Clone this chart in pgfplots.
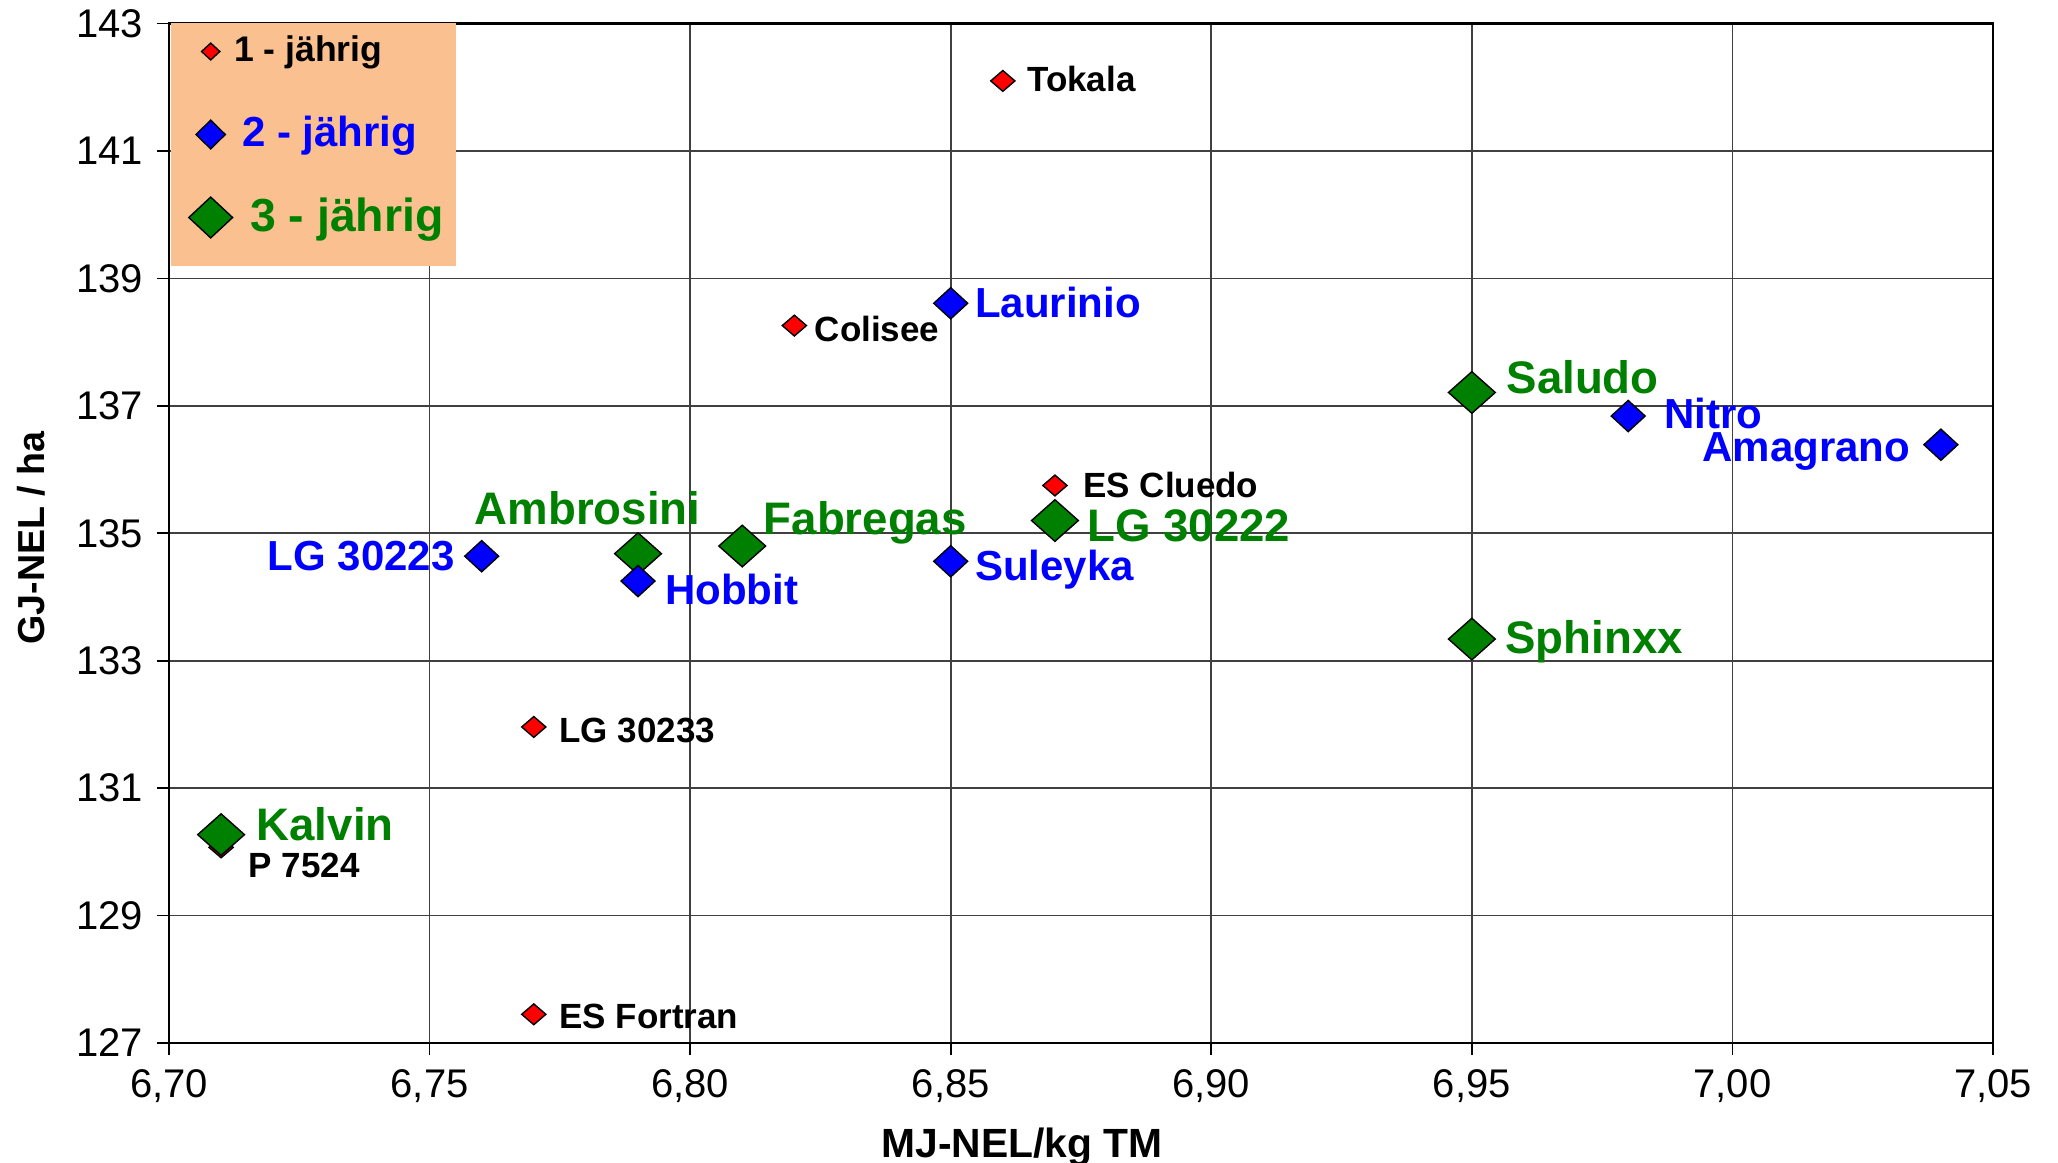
\documentclass[border=0pt]{standalone}
\usepackage{fontspec}
\setmainfont{Liberation Sans}
\usepackage{pgfplots}
\usepackage{pgfplotstable}
\pgfplotsset{compat=1.18}
\definecolor{legfill}{RGB}{250,192,143}
\definecolor{mygreen}{RGB}{0,128,0}

\pgfplotstableread{
x y
6.86 142.10
6.82 138.26
6.87 135.75
6.77 131.96
6.71 130.07
6.77 127.45
}\redt

\pgfplotstableread{
x y
6.85 138.61
6.98 136.84
7.04 136.39
6.76 134.64
6.79 134.25
6.85 134.56
}\bluet

\pgfplotstableread{
x y
6.95 137.21
6.79 134.68
6.81 134.80
6.87 135.20
6.95 133.34
6.71 130.27
}\greent

\tikzset{
  lb/.style={inner sep=0pt, text height=0.72em, text depth=0pt, font=\bfseries\fontsize{8.75}{10}\selectfont, text=black},
  lblue/.style={inner sep=0pt, text height=0.72em, text depth=0pt, font=\bfseries\fontsize{10.5}{12}\selectfont, text=blue},
  lgreen/.style={inner sep=0pt, text height=0.72em, text depth=0pt, font=\bfseries\fontsize{11.4}{13}\selectfont, text=mygreen},
}

\begin{document}
\begin{tikzpicture}
\begin{axis}[
  at={(0pt,0pt)}, anchor=south west,
  scale only axis, width=456pt, height=254.85pt,
  xmin=6.70, xmax=7.05, ymin=127, ymax=143,
  xtick={6.70,6.75,6.80,6.85,6.90,6.95,7.00,7.05},
  ytick={127,129,131,133,135,137,139,141,143},
  grid=major, major grid style={line width=0.4pt, black!75},
  axis line style={line width=0.7pt, black},
  tick align=outside, tick pos=left, major tick length=3pt,
  tick style={black, line width=0.4pt},
  /pgf/number format/assume math mode=true,
  ticklabel style={font=\fontsize{10}{12}\selectfont},
  xticklabel style={/pgf/number format/.cd, fixed, fixed zerofill, precision=2, use comma},
  yticklabel style={/pgf/number format/.cd, fixed, precision=0},
  xlabel={MJ-NEL/kg TM}, ylabel={GJ-NEL / ha},
  xlabel style={at={(axis description cs:0.4677,-0.1020)}, anchor=center,
    font=\bfseries\fontsize{10.2}{12}\selectfont},
  ylabel style={at={(axis description cs:-0.0754,0.4954)}, anchor=center,
    font=\bfseries\fontsize{9.4}{11}\selectfont},
  legend style={draw=none, fill=none, at={(axis description cs:0.0005,1.0141)},
    anchor=north west, inner sep=0pt, row sep=0pt,
    nodes={inner sep=0pt, minimum height=20.75pt}},
  legend cell align=left,
  legend image code/.code={\path[draw=none, fill=none] (0pt,-1pt) rectangle (17.85pt,1pt);
    \draw[#1] plot coordinates {(10pt,0pt)};},
]
\fill[legfill] (axis description cs:0.0012,1.0019) rectangle (axis description cs:0.1572,0.7625);

\addplot[only marks, forget plot, mark=diamond*, mark size=2.6pt,
  mark options={fill=red, draw=black, line width=0.35pt, xscale=1.55}]
  table[x=x, y=y] {\redt};

\addplot[only marks, forget plot, mark=diamond*, mark size=5.2pt,
  mark options={fill=mygreen, draw=black, line width=0.35pt, xscale=1.5}]
  table[x=x, y=y] {\greent};

\addplot[only marks, forget plot, mark=diamond*, mark size=3.9pt,
  mark options={fill=blue, draw=black, line width=0.35pt, xscale=1.45}]
  table[x=x, y=y] {\bluet};

% labels, 1-jaehrig
\node[lb, anchor=west] at ([xshift=5.9pt,yshift=1pt]axis cs:6.86,142.10) {Tokala};
\node[lb, anchor=west] at ([xshift=4.9pt,yshift=-0.5pt]axis cs:6.82,138.26) {Colisee};
\node[lb, anchor=west] at ([xshift=6.9pt,yshift=0.7pt]axis cs:6.87,135.75) {ES Cluedo};
\node[lb, anchor=west] at ([xshift=6.2pt,yshift=-0.4pt]axis cs:6.77,131.96) {LG 30233};
\node[lb, anchor=west] at ([xshift=6.75pt,yshift=-3.9pt]axis cs:6.71,130.07) {P 7524};
\node[lb, anchor=west] at ([xshift=6.2pt]axis cs:6.77,127.45) {ES Fortran};
% labels, 2-jaehrig
\node[lblue, anchor=west] at ([xshift=5.9pt]axis cs:6.85,138.61) {Laurinio};
\node[lblue, anchor=west] at ([xshift=8.9pt,yshift=0.5pt]axis cs:6.98,136.84) {Nitro};
\node[lblue, anchor=east] at ([xshift=-7.5pt,yshift=-0.7pt]axis cs:7.04,136.39) {Amagrano};
\node[lblue, anchor=east] at ([xshift=-6.6pt]axis cs:6.76,134.64) {LG 30223};
\node[lblue, anchor=west] at ([xshift=6.6pt,yshift=-2.3pt]axis cs:6.79,134.25) {Hobbit};
\node[lblue, anchor=west] at ([xshift=5.9pt,yshift=-1.3pt]axis cs:6.85,134.56) {Suleyka};
% labels, 3-jaehrig
\node[lgreen, anchor=west] at ([xshift=8.5pt,yshift=3.3pt]axis cs:6.95,137.21) {Saludo};
\node[lgreen, anchor=west] at ([xshift=-41pt,yshift=10.8pt]axis cs:6.79,134.68) {Ambrosini};
\node[lgreen, anchor=west] at ([xshift=5.2pt,yshift=6.6pt]axis cs:6.81,134.80) {Fabregas};
\node[lgreen, anchor=west] at ([xshift=7.9pt,yshift=-1.6pt]axis cs:6.87,135.20) {LG 30222};
\node[lgreen, anchor=west] at ([xshift=8.2pt]axis cs:6.95,133.34) {Sphinxx};
\node[lgreen, anchor=west] at ([xshift=8.7pt,yshift=2.2pt]axis cs:6.71,130.27) {Kalvin};

\addlegendimage{only marks, mark=diamond*, mark size=2.1pt,
  mark options={fill=red, draw=black, line width=0.35pt, xscale=1.45}}
\addlegendentry{\hspace*{-2pt}\bfseries\fontsize{8.9}{10}\selectfont 1 - jährig}
\addlegendimage{only marks, mark=diamond*, mark size=3.6pt,
  mark options={fill=blue, draw=black, line width=0.35pt, xscale=1.35}}
\addlegendentry{\bfseries\fontsize{10.5}{12}\selectfont\textcolor{blue}{2 - jährig}}
\addlegendimage{only marks, mark=diamond*, mark size=5.1pt,
  mark options={fill=mygreen, draw=black, line width=0.35pt, xscale=1.43}}
\addlegendentry{\hspace*{2pt}\bfseries\fontsize{11.6}{13}\selectfont\textcolor{mygreen}{3 - jährig}}
\end{axis}
\pgfresetboundingbox
\useasboundingbox (-42.25pt,-30pt) rectangle (472.25pt,260.75pt);
\end{tikzpicture}
\end{document}
